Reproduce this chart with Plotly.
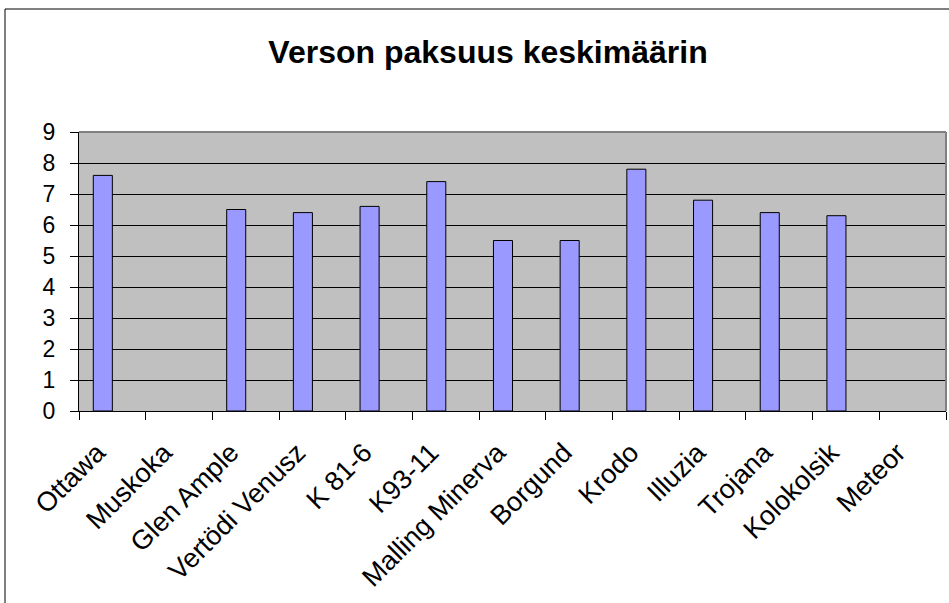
import plotly.graph_objects as go

# lajikkeet ja keskimääräinen verson paksuus
lajikkeet = ['Ottawa', 'Muskoka', 'Glen Ample', 'Vertödi Venusz', 'K 81-6', 'K93-11',
             'Malling Minerva', 'Borgund', 'Krodo', 'Illuzia', 'Trojana', 'Kolokolsik', 'Meteor']
paksuus = [7.6, None, 6.5, 6.4, 6.6, 7.4, 5.5, 5.5, 7.8, 6.8, 6.4, 6.3, None]
y_ticks = list(range(0, 10))

FONT = 'Liberation Sans, Arial, sans-serif'

W, H = 949, 603
L, R, T, B = 79, 3, 132, 192
pw, ph = W - L - R, H - T - B

fig = go.Figure()

# Excel-tyyliin kaksi sarjaa ryhmässä -> pylväs on kategorian vasemmalla puolella
fig.add_trace(go.Bar(
    x=lajikkeet,
    y=paksuus,
    width=0.2857,
    offset=-0.2857,
    marker=dict(color='#9999FF', line=dict(color='black', width=1)),
    hovertemplate='%{x}: %{y}<extra></extra>'
))

fig.update_layout(
    width=W,
    height=H,
    margin=dict(l=L, r=R, t=T, b=B),
    paper_bgcolor='white',
    plot_bgcolor='#C0C0C0',
    showlegend=False,
    title=dict(
        text='<b>Verson paksuus keskimäärin</b>',
        font=dict(family=FONT, size=32, color='black'),
        x=488 / W,
        xanchor='center',
        y=1 - 52 / H,
        yanchor='middle'
    ),
    xaxis=dict(
        type='category',
        showgrid=False,
        tickson='boundaries',
        ticks='outside',
        ticklen=8,
        tickcolor='black',
        showline=True,
        linecolor='black',
        linewidth=1,
        tickangle=-45,
        ticklabelstandoff=14,
        ticklabelshift=-15,
        tickfont=dict(family=FONT, size=27, color='black'),
        range=[-0.5, len(lajikkeet) - 0.5]
    ),
    yaxis=dict(
        range=[0, 9],
        tickvals=y_ticks,
        showgrid=True,
        gridcolor='black',
        gridwidth=1,
        ticks='outside',
        ticklen=8,
        tickcolor='black',
        showline=True,
        linecolor='black',
        linewidth=1,
        zeroline=False,
        ticklabelstandoff=10,
        tickfont=dict(family=FONT, size=23, color='black')
    )
)

# kuvaajan kehys ylhäällä ja oikealla (harmaa)
fig.add_shape(type='line', xref='paper', yref='paper', x0=0, x1=1, y0=1, y1=1,
              line=dict(color='#808080', width=2))
fig.add_shape(type='line', xref='paper', yref='paper', x0=1, x1=1, y0=0, y1=1,
              line=dict(color='#808080', width=2))

# koko kaavion ulkokehys
fig.add_shape(type='rect', xref='paper', yref='paper',
              x0=(5 - L) / pw, x1=(W + 20 - L) / pw,
              y0=-(H + 20 - T - ph) / ph, y1=1 + (T - 9) / ph,
              line=dict(color='black', width=1), fillcolor='rgba(0,0,0,0)')

# sivun oletusmarginaali pois, jotta kaavio alkaa vasemmasta yläkulmasta
fig.write_html('out.html', config={'displayModeBar': False},
               post_script="document.body.style.margin='0';")
